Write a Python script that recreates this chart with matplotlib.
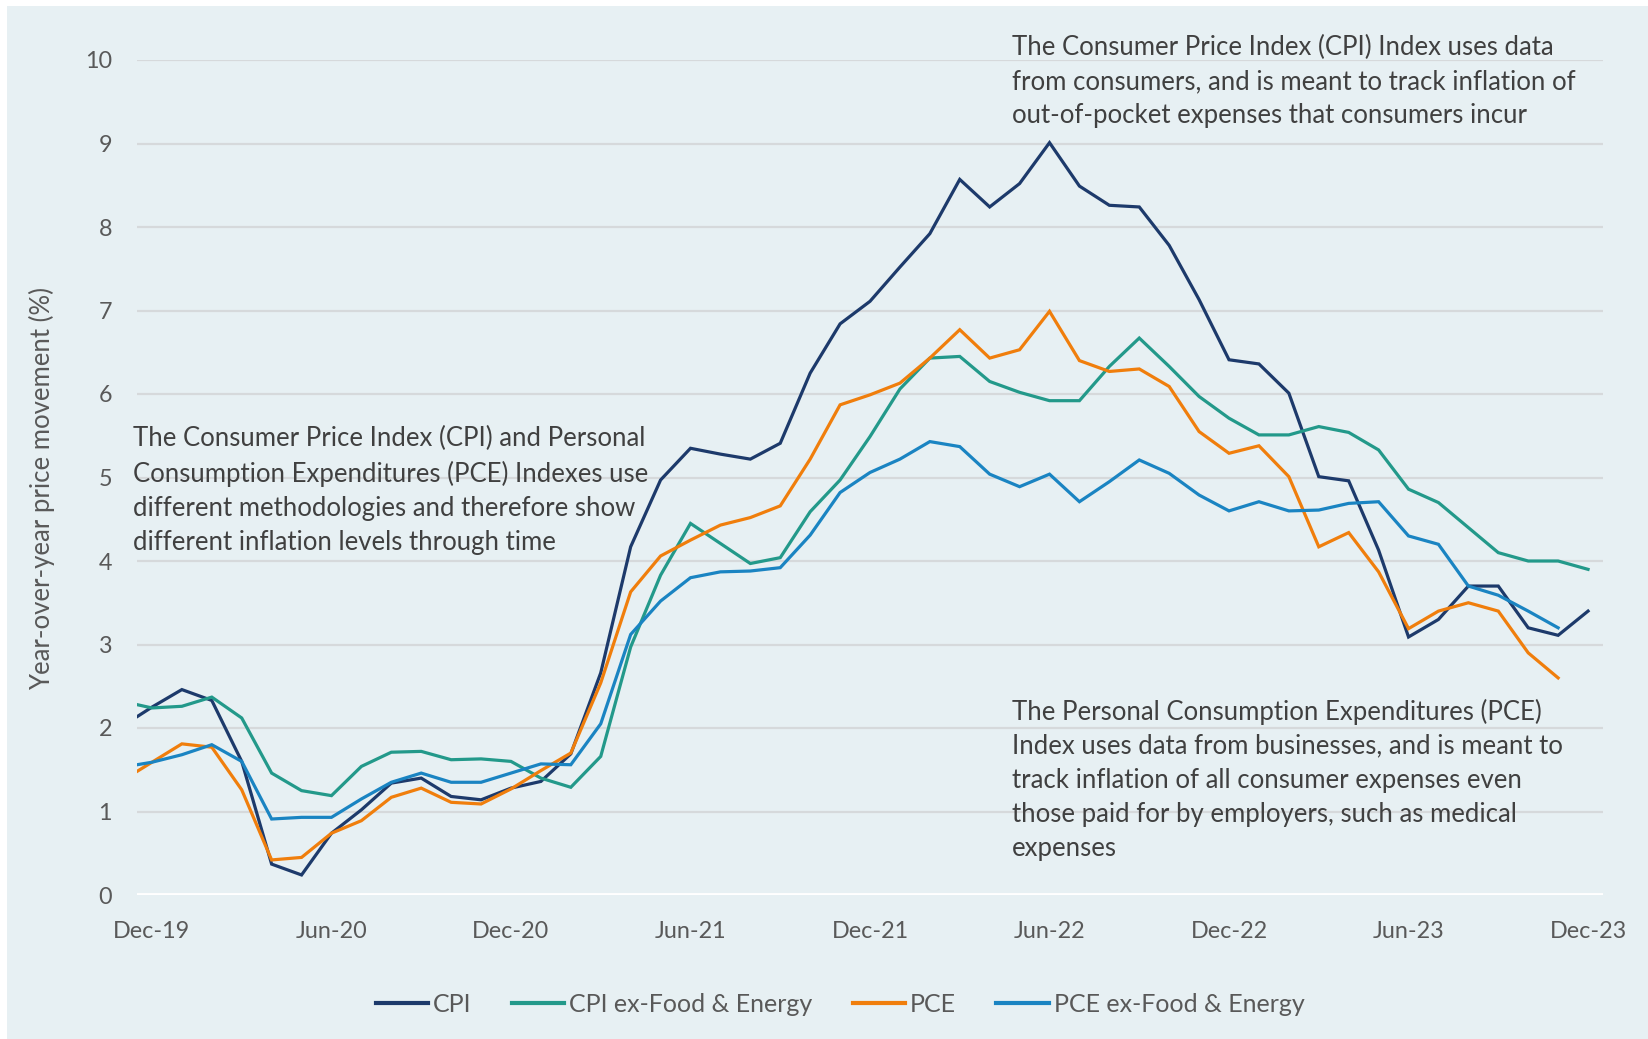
import numpy as np
import matplotlib
matplotlib.use("Agg")
import matplotlib.pyplot as plt
from matplotlib.lines import Line2D

plt.rcParams['font.family'] = ['Lato', 'DejaVu Sans']

# Monthly data from Nov-19 (index -1) through Dec-23 (index 48)
months = ["Nov-19", "Dec-19", "Jan-20", "Feb-20", "Mar-20", "Apr-20", "May-20", "Jun-20", "Jul-20",
          "Aug-20", "Sep-20", "Oct-20", "Nov-20", "Dec-20", "Jan-21", "Feb-21", "Mar-21", "Apr-21",
          "May-21", "Jun-21", "Jul-21", "Aug-21", "Sep-21", "Oct-21", "Nov-21", "Dec-21", "Jan-22",
          "Feb-22", "Mar-22", "Apr-22", "May-22", "Jun-22", "Jul-22", "Aug-22", "Sep-22", "Oct-22",
          "Nov-22", "Dec-22", "Jan-23", "Feb-23", "Mar-23", "Apr-23", "May-23", "Jun-23", "Jul-23",
          "Aug-23", "Sep-23", "Oct-23", "Nov-23", "Dec-23"]

cpi = [2.02, 2.25, 2.46, 2.33, 1.60, 0.37, 0.24, 0.74, 1.02, 1.34, 1.40, 1.18, 1.14, 1.28, 1.36,
       1.69, 2.66, 4.17, 4.97, 5.35, 5.28, 5.22, 5.41, 6.25, 6.84, 7.11, 7.52, 7.92, 8.57, 8.24,
       8.52, 9.01, 8.49, 8.26, 8.24, 7.78, 7.13, 6.41, 6.36, 6.01, 5.01, 4.96, 4.13, 3.09, 3.30,
       3.70, 3.70, 3.20, 3.11, 3.40]

cpi_core = [2.32, 2.24, 2.26, 2.37, 2.12, 1.46, 1.25, 1.19, 1.54, 1.71, 1.72, 1.62, 1.63, 1.60,
            1.40, 1.29, 1.66, 2.97, 3.83, 4.45, 4.21, 3.97, 4.04, 4.59, 4.97, 5.49, 6.06, 6.43,
            6.45, 6.15, 6.02, 5.92, 5.92, 6.33, 6.67, 6.33, 5.97, 5.71, 5.51, 5.51, 5.61, 5.54,
            5.33, 4.86, 4.70, 4.40, 4.10, 4.00, 4.00, 3.90]

pce = [1.37, 1.59, 1.81, 1.77, 1.26, 0.42, 0.45, 0.74, 0.89, 1.17, 1.28, 1.11, 1.09, 1.27, 1.49,
       1.70, 2.54, 3.63, 4.06, 4.25, 4.43, 4.52, 4.66, 5.22, 5.87, 5.99, 6.13, 6.43, 6.77, 6.43,
       6.53, 6.99, 6.40, 6.27, 6.30, 6.09, 5.55, 5.29, 5.38, 5.01, 4.17, 4.34, 3.87, 3.19, 3.40,
       3.50, 3.40, 2.90, 2.60, None]

pce_core = [1.53, 1.59, 1.68, 1.80, 1.60, 0.91, 0.93, 0.93, 1.15, 1.35, 1.46, 1.35, 1.35, 1.46,
            1.57, 1.56, 2.05, 3.12, 3.52, 3.80, 3.87, 3.88, 3.92, 4.31, 4.82, 5.06, 5.22, 5.43,
            5.37, 5.04, 4.89, 5.04, 4.71, 4.95, 5.21, 5.05, 4.79, 4.60, 4.71, 4.60, 4.61, 4.69,
            4.71, 4.30, 4.20, 3.70, 3.59, 3.40, 3.20, None]

series_names = ["CPI", "CPI ex-Food & Energy", "PCE", "PCE ex-Food & Energy"]
series_colors = ["#1d3a6b", "#23998a", "#f07e0c", "#1a84c2"]

tick_labels = ["Dec-19", "Jun-20", "Dec-20", "Jun-21", "Dec-21", "Jun-22", "Dec-22", "Jun-23", "Dec-23"]

text_top = ("The Consumer Price Index (CPI) Index uses data\n"
            "from consumers, and is meant to track inflation of\n"
            "out-of-pocket expenses that consumers incur")
text_left = ("The Consumer Price Index (CPI) and Personal\n"
             "Consumption Expenditures (PCE) Indexes use\n"
             "different methodologies and therefore show\n"
             "different inflation levels through time")
text_bottom = ("The Personal Consumption Expenditures (PCE)\n"
               "Index uses data from businesses, and is meant to\n"
               "track inflation of all consumer expenses even\n"
               "those paid for by employers, such as medical\n"
               "expenses")

W, H = 1648, 1039
BG = "#e7f0f3"
fig = plt.figure(figsize=(W / 100, H / 100), dpi=100, facecolor="white")
# panel background (white margin at top/left)
fig.patches.append(plt.Rectangle((7 / W, 0), 1, 1 - 6 / H, transform=fig.transFigure,
                                 facecolor=BG, edgecolor="none", zorder=-10))

ax = fig.add_axes([137 / W, 1 - 895 / H, (1603 - 137) / W, (895 - 60) / H])
ax.set_facecolor(BG)
ax.patch.set_alpha(0)

x = np.arange(-1, len(months) - 1)
for vals, name, col in zip([cpi, cpi_core, pce, pce_core], series_names, series_colors):
    v = np.array([np.nan if a is None else a for a in vals], dtype=float)
    ax.plot(x, v, color=col, lw=2.3, label=name, solid_joinstyle="miter", zorder=3)

ax.set_xlim(-0.5, 48.5)
ax.set_ylim(0, 10)
ax.set_yticks(range(0, 11))
ax.set_xticks(np.arange(0, 49, 6))
ax.set_xticklabels(tick_labels)
ax.yaxis.grid(True, color="#d6d9db", lw=1.6)
ax.set_axisbelow(True)
for s in ax.spines.values():
    s.set_visible(False)
ax.axhline(0, color="white", lw=3.5, zorder=2)
ax.tick_params(axis="both", length=0, labelsize=16.8, labelcolor="#595959")
ax.tick_params(axis="y", pad=18)
ax.tick_params(axis="x", pad=19)
ax.set_ylabel("Year-over-year price movement (%)", fontsize=18.5, color="#595959", va="center")
ax.yaxis.set_label_coords(-0.0648, 0.487)

txt_kw = dict(fontsize=18.5, color="#404040", ha="left", va="center", linespacing=1.45)
fig.text(1012 / W, 1 - 81.5 / H, text_top, **txt_kw)
fig.text(133 / W, 1 - 490.5 / H, text_left, **txt_kw)
fig.text(1012 / W, 1 - 779.5 / H, text_bottom, **txt_kw)

handles = [Line2D([0], [0], color=c, lw=3) for c in series_colors]
fig.legend(handles, series_names, loc="center", bbox_to_anchor=(840 / W, 1 - 1004 / H),
           ncol=4, frameon=False, fontsize=18, labelcolor="#595959", handlelength=2.1,
           handletextpad=0.2, columnspacing=1.6)

fig.savefig("out.png", dpi=100, facecolor="white")
